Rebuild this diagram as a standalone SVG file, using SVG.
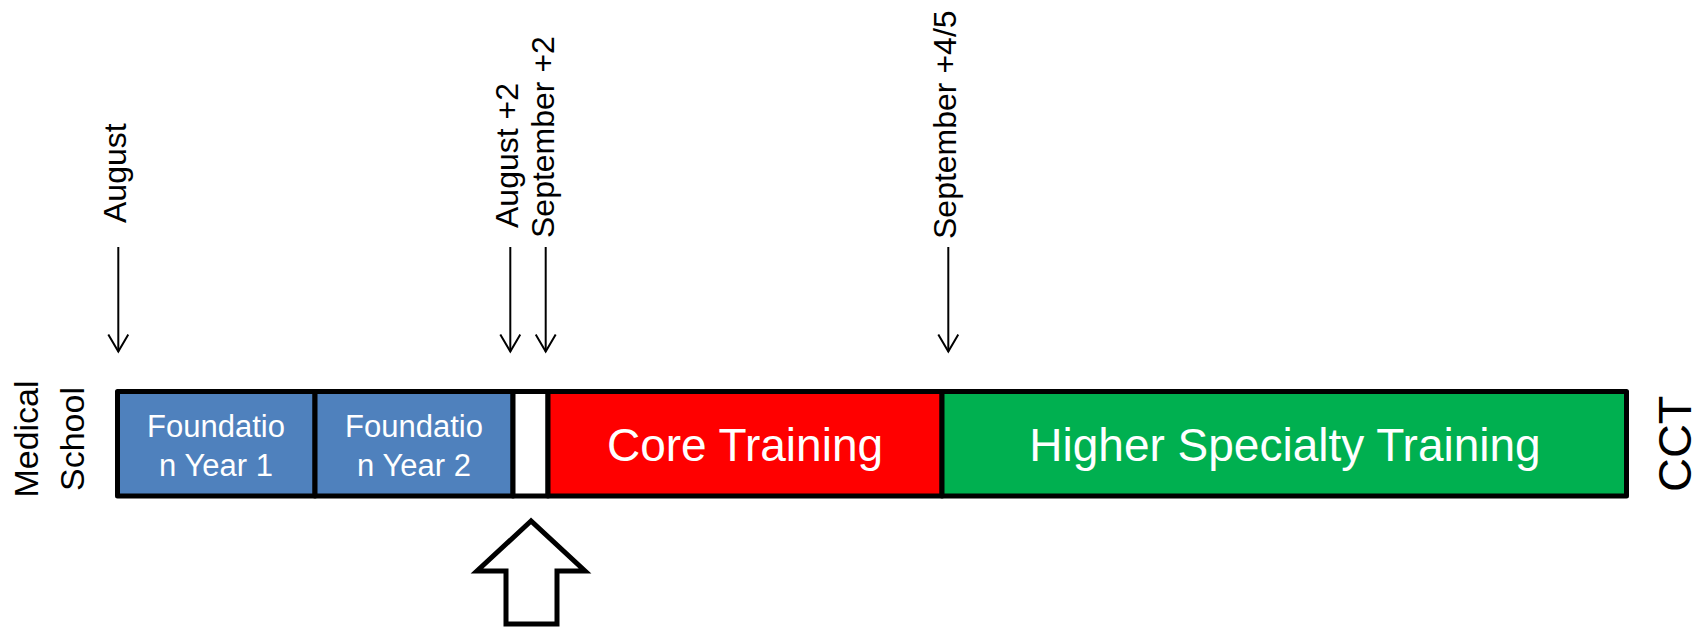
<svg xmlns="http://www.w3.org/2000/svg" width="1706" height="629" viewBox="0 0 1706 629">
  <defs>
    <style>
      text { font-family: "Liberation Sans", Arial, Helvetica, sans-serif; }
      .seg { stroke: #000; stroke-width: 5; stroke-linejoin: round; }
      .lbl { fill: #fff; text-anchor: middle; }
      .small { font-size: 31px; }
      .big { font-size: 46px; }
      .date { font-size: 32px; fill: #000; }
      .side { fill: #000; text-anchor: middle; }
      .tick { stroke: #000; stroke-width: 2; fill: none; marker-end: url(#vhead); }
    </style>
    <marker id="vhead" viewBox="-1 -11 20 22" refX="17" refY="0" markerWidth="20" markerHeight="22" markerUnits="userSpaceOnUse" orient="auto">
      <path d="M0,-10 L17,0 L0,10" fill="none" stroke="#000" stroke-width="2"/>
    </marker>
  </defs>

  <rect width="1706" height="629" fill="#fff"/>

  <!-- timeline segments -->
  <g id="foundation-year-1">
    <rect class="seg" x="117.5" y="391.5" width="197.5" height="104.5" fill="#4F81BD"/>
    <text class="lbl small" x="216" y="436.5">Foundatio</text>
    <text class="lbl small" x="216" y="475.5">n Year 1</text>
  </g>
  <g id="foundation-year-2">
    <rect class="seg" x="315" y="391.5" width="198" height="104.5" fill="#4F81BD"/>
    <text class="lbl small" x="414" y="436.5">Foundatio</text>
    <text class="lbl small" x="414" y="475.5">n Year 2</text>
  </g>
  <g id="gap-year">
    <rect class="seg" x="513" y="391.5" width="35" height="104.5" fill="#fff"/>
  </g>
  <g id="core-training">
    <rect class="seg" x="548" y="391.5" width="394" height="104.5" fill="#FF0000"/>
    <text class="lbl big" x="745" y="461">Core Training</text>
  </g>
  <g id="higher-specialty-training">
    <rect class="seg" x="942" y="391.5" width="684.5" height="104.5" fill="#00B050"/>
    <text class="lbl big" x="1285" y="461" font-size="47">Higher Specialty Training</text>
  </g>

  <!-- end labels -->
  <g id="medical-school">
    <text class="side" font-size="34" transform="translate(38,439) rotate(-90)">Medical</text>
    <text class="side" font-size="34" transform="translate(84,439) rotate(-90)">School</text>
  </g>
  <g id="cct">
    <text class="side" font-size="47" transform="translate(1691,443.75) rotate(-90)">CCT</text>
  </g>

  <!-- date markers -->
  <g id="date-labels">
    <text class="date" transform="translate(126,223) rotate(-90)">August</text>
    <text class="date" transform="translate(518,228) rotate(-90)">August +2</text>
    <text class="date" transform="translate(554,238) rotate(-90)">September +2</text>
    <text class="date" transform="translate(956,239) rotate(-90)">September +4/5</text>
  </g>

  <g id="connectors">
    <line class="tick" x1="118.3" y1="247" x2="118.3" y2="351.5"/>
    <line class="tick" x1="510.3" y1="247" x2="510.3" y2="351.5"/>
    <line class="tick" x1="545.7" y1="247" x2="545.7" y2="351.5"/>
    <line class="tick" x1="948.3" y1="247" x2="948.3" y2="351.5"/>
  </g>

  <!-- entry-point block arrow -->
  <g id="entry-arrow">
    <polygon points="531,521 477,571 506,571 506,624 557,624 557,571 585,571" fill="#fff" stroke="#000" stroke-width="5" stroke-linejoin="miter"/>
  </g>
</svg>
